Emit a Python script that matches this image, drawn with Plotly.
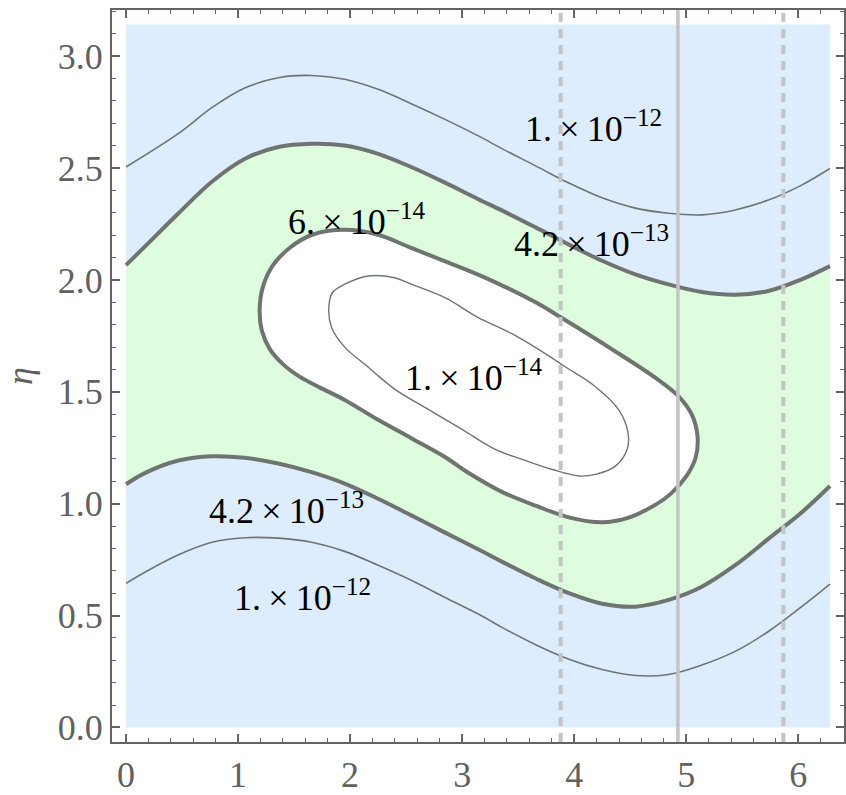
import math
import plotly.graph_objects as go

# Contour levels and their label text
TS = "\u2009"
level_labels = [f"1.{TS}×{TS}10<sup>−12</sup>", f"4.2{TS}×{TS}10<sup>−13</sup>",
                f"6.{TS}×{TS}10<sup>−14</sup>", f"1.{TS}×{TS}10<sup>−14</sup>",
                f"4.2{TS}×{TS}10<sup>−13</sup>", f"1.{TS}×{TS}10<sup>−12</sup>"]
label_x = [4.175, 4.157, 2.065, 3.107, 1.433, 1.576]
label_y = [2.684, 2.174, 2.272, 1.575, 0.977, 0.592]

# Upper 1e-12 contour
a_x = [0.0, 0.469, 0.766, 1.059, 1.359, 1.656, 1.952, 2.250, 2.546, 2.843, 3.140,
       3.359, 3.656, 3.953, 4.249, 4.546, 4.843, 5.139, 5.437, 5.733, 6.030, 6.283]
a_y = [2.505, 2.655, 2.770, 2.858, 2.904, 2.914, 2.897, 2.852, 2.788, 2.719, 2.645,
       2.586, 2.510, 2.433, 2.367, 2.321, 2.298, 2.291, 2.313, 2.357, 2.424, 2.498]

# Upper 4.2e-13 contour
b_x = [0.0, 0.172, 0.469, 0.766, 1.062, 1.359, 1.656, 1.952, 2.250, 2.546, 2.843,
       3.140, 3.359, 3.656, 3.953, 4.249, 4.546, 4.843, 5.139, 5.437, 5.733, 6.030, 6.283]
b_y = [2.066, 2.151, 2.298, 2.439, 2.542, 2.594, 2.609, 2.601, 2.564, 2.505, 2.436,
       2.362, 2.310, 2.235, 2.158, 2.086, 2.025, 1.980, 1.946, 1.934, 1.951, 2.003, 2.062]

# Lower 4.2e-13 contour
c_x = [0.0, 0.172, 0.469, 0.766, 1.062, 1.359, 1.656, 1.952, 2.250, 2.546, 2.843,
       3.169, 3.359, 3.656, 3.953, 4.249, 4.546, 4.843, 5.139, 5.437, 5.733, 6.030, 6.283]
c_y = [1.087, 1.138, 1.193, 1.212, 1.205, 1.180, 1.141, 1.090, 1.022, 0.948, 0.872,
       0.790, 0.740, 0.666, 0.600, 0.553, 0.540, 0.570, 0.629, 0.725, 0.843, 0.961, 1.079]

# Lower 1e-12 contour
d_x = [0.0, 0.172, 0.469, 0.766, 1.062, 1.359, 1.656, 1.952, 2.250, 2.546, 2.843,
       3.169, 3.359, 3.656, 3.953, 4.249, 4.546, 4.843, 5.139, 5.437, 5.733, 6.030, 6.283]
d_y = [0.644, 0.695, 0.772, 0.828, 0.848, 0.846, 0.828, 0.787, 0.725, 0.658, 0.582,
       0.500, 0.446, 0.370, 0.305, 0.259, 0.232, 0.237, 0.279, 0.340, 0.429, 0.540, 0.641]

# Closed 6e-14 contour
e_x = [1.952, 2.250, 2.546, 2.843, 3.169, 3.656, 3.879, 4.338, 4.727, 4.932, 5.048,
       5.101, 5.083, 5.003, 4.861, 4.727, 4.487, 4.249, 3.953, 3.656, 3.359, 3.062,
       2.843, 2.546, 2.250, 1.952, 1.727, 1.549, 1.398, 1.282, 1.211, 1.193, 1.220,
       1.309, 1.460, 1.656, 1.952]
e_y = [2.224, 2.202, 2.143, 2.084, 2.018, 1.900, 1.833, 1.690, 1.562, 1.480, 1.400,
       1.301, 1.204, 1.124, 1.044, 0.996, 0.938, 0.917, 0.939, 0.991, 1.052, 1.136,
       1.210, 1.293, 1.375, 1.464, 1.520, 1.568, 1.625, 1.692, 1.776, 1.869, 1.966,
       2.064, 2.143, 2.201, 2.224]

# Closed 1e-14 contour
f_x = [1.952, 2.161, 2.397, 2.546, 2.843, 3.140, 3.448, 3.745, 3.923, 4.190, 4.398,
       4.481, 4.472, 4.368, 4.190, 4.042, 3.804, 3.537, 3.300, 3.003, 2.706, 2.410,
       2.261, 2.161, 1.952, 1.834, 1.810, 1.843, 1.952]
f_y = [1.981, 2.018, 2.010, 1.981, 1.922, 1.833, 1.759, 1.670, 1.611, 1.523, 1.419,
       1.316, 1.242, 1.168, 1.131, 1.124, 1.153, 1.198, 1.242, 1.331, 1.419, 1.508,
       1.567, 1.611, 1.700, 1.789, 1.877, 1.944, 1.981]

# Reference phase markers
vline_x = [3.879, 4.926, 5.867]
vline_dash = ["dash", "solid", "dash"]

# Domain of the shaded map
x_min, x_max = 0.0, 2 * math.pi
y_min, y_max = 0.0, math.pi

BLUE = "rgb(221,237,254)"
GREEN = "rgb(222,252,222)"
LINE = "rgb(112,116,112)"
SERIF = "Liberation Serif, Times New Roman, serif"
TICK = "rgb(96,96,96)"
FRAME = "rgb(100,100,100)"

fig = go.Figure()

# Outer (blue) region
fig.add_trace(go.Scatter(
    x=[x_min, x_max, x_max, x_min, x_min], y=[y_min, y_min, y_max, y_max, y_min],
    mode="lines", fill="toself", fillcolor=BLUE, line=dict(width=0),
    hoverinfo="skip"))

# Green band between the two 4.2e-13 contours
fig.add_trace(go.Scatter(x=c_x, y=c_y, mode="lines",
                         line=dict(width=0, shape="spline", color="rgba(0,0,0,0)"),
                         hoverinfo="skip"))
fig.add_trace(go.Scatter(x=b_x, y=b_y, mode="lines", fill="tonexty", fillcolor=GREEN,
                         line=dict(width=0, shape="spline", color="rgba(0,0,0,0)"),
                         hoverinfo="skip"))

# White interior of the 6e-14 contour
fig.add_trace(go.Scatter(x=e_x, y=e_y, mode="lines", fill="toself", fillcolor="white",
                         line=dict(width=0, shape="spline", color="rgba(0,0,0,0)"),
                         hoverinfo="skip"))

# Contour lines
for xs, ys, w in [(a_x, a_y, 1.6), (d_x, d_y, 1.6), (f_x, f_y, 1.4),
                  (b_x, b_y, 4), (c_x, c_y, 4), (e_x, e_y, 4)]:
    fig.add_trace(go.Scatter(x=xs, y=ys, mode="lines",
                             line=dict(width=w, color=LINE, shape="spline"),
                             hoverinfo="skip"))

# Vertical markers spanning the full frame
for xv, ds in zip(vline_x, vline_dash):
    fig.add_shape(type="line", xref="x", yref="paper", x0=xv, x1=xv, y0=0, y1=1,
                  line=dict(color="rgb(196,196,196)", width=4 if ds == "dash" else 3.5,
                            dash="9px,7px" if ds == "dash" else "solid"),
                  layer="above")

# Contour labels
for t, lx, ly in zip(level_labels, label_x, label_y):
    fig.add_annotation(x=lx, y=ly, text=t, showarrow=False,
                       font=dict(family=SERIF, size=36, color="black"),
                       xanchor="center", yanchor="middle")

pad_x = 0.125
pad_y = 0.065
axis_common = dict(
    showline=True, linecolor=FRAME, linewidth=2, mirror="allticks",
    ticks="inside", ticklen=8, tickwidth=1.5, tickcolor=FRAME,
    showgrid=False, zeroline=False,
    tickfont=dict(family=SERIF, size=36, color=TICK),
)
fig.update_xaxes(range=[x_min - pad_x, x_max + pad_x], tick0=0, dtick=1,
                 minor=dict(ticks="inside", ticklen=4, tickwidth=1.2,
                            tickcolor=FRAME, dtick=0.2, tick0=0),
                 **axis_common)
fig.update_yaxes(range=[y_min - pad_y, y_max + pad_y], tick0=0, dtick=0.5,
                 tickformat=".1f",
                 minor=dict(ticks="inside", ticklen=4, tickwidth=1.2,
                            tickcolor=FRAME, dtick=0.1, tick0=0),
                 title=dict(text="<i>η</i>", font=dict(family=SERIF, size=36, color=TICK),
                            standoff=16),
                 **axis_common)

fig.update_layout(
    width=846, height=795,
    margin=dict(l=112, r=0, t=10, b=47),
    plot_bgcolor="white", paper_bgcolor="white",
    showlegend=False,
)

fig.write_html("out.html")
